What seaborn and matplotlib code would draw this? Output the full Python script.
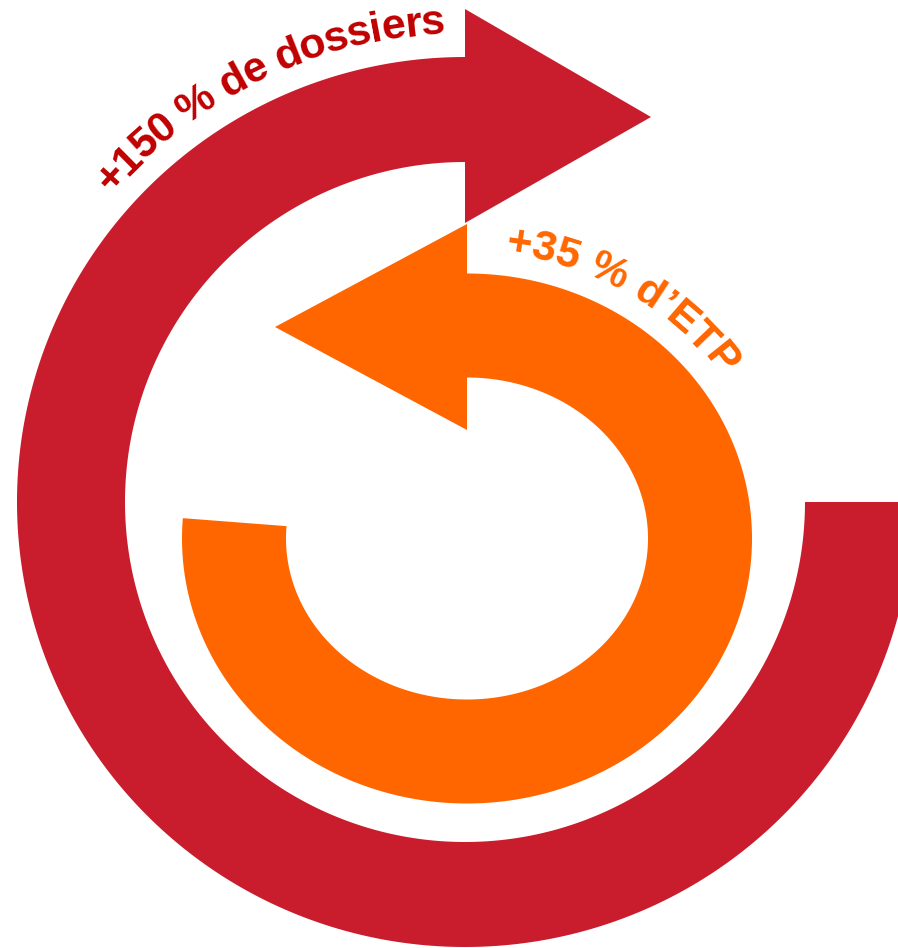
import numpy as np
import matplotlib.pyplot as plt
import seaborn as sns
from matplotlib.patches import Polygon
from matplotlib import font_manager
from matplotlib.ft2font import FT2Font

# valeurs affichées
growth = [150, 35]
units = ["de dossiers", "d\u2019ETP"]
labels = ["+%d %% %s" % (g, u) for g, u in zip(growth, units)]
ring_colors = ["#C91D2D", "#FF6600"]
text_colors = ["#C00000", "#FF6600"]

sns.set_theme(style="white")
plt.rcParams['font.family'] = ['Liberation Sans', 'DejaVu Sans']

W, H = 898, 948
fig = plt.figure(figsize=(W / 100, H / 100), dpi=100)
ax = fig.add_axes([0, 0, 1, 1])
ax.set_xlim(0, W)
ax.set_ylim(H, 0)
ax.axis('off')


def ring(cx, cy, rxo, ryo, rxi, ryi, t0, t1, color):
    t = np.radians(np.linspace(t0, t1, 500))
    outer = np.c_[cx + rxo * np.cos(t), cy + ryo * np.sin(t)]
    inner = np.c_[cx + rxi * np.cos(t[::-1]), cy + ryi * np.sin(t[::-1])]
    ax.add_patch(Polygon(np.vstack([outer, inner]), closed=True, fc=color, ec='none'))


def curved_text(s, cx, cy, rx, ry, t_start, size, color, spacing=1.0):
    path = font_manager.findfont(font_manager.FontProperties(family='Liberation Sans', weight='bold'))
    font = FT2Font(path)
    font.set_size(size, 100)
    adv = np.array([font.load_char(ord(c)).linearHoriAdvance / 65536 for c in s]) * spacing
    t = np.radians(np.linspace(t_start, t_start + 180, 5000))
    x = cx + rx * np.cos(t)
    y = cy + ry * np.sin(t)
    arc = np.r_[0, np.cumsum(np.hypot(np.diff(x), np.diff(y)))]
    centers = np.cumsum(adv) - adv / 2
    for c, sc in zip(s, centers):
        tc = np.interp(sc, arc, t)
        px, py = cx + rx * np.cos(tc), cy + ry * np.sin(tc)
        rot = np.degrees(np.arctan2(-ry * np.cos(tc), -rx * np.sin(tc)))
        ax.text(px, py, c, rotation=rot, rotation_mode='anchor', ha='center', va='baseline',
                fontsize=size, fontweight='bold', color=color,
                family=['Liberation Sans', 'DejaVu Sans'])


# grande flèche rouge
ring(465, 502, 448, 445, 340, 340, 0, 271, ring_colors[0])
ax.add_patch(Polygon([(465, 9), (651, 117), (465, 223)], closed=True, fc=ring_colors[0], ec='none'))

# petite flèche orange
ring(467, 538.5, 285, 265, 181, 161, -91, 184.4, ring_colors[1])
ax.add_patch(Polygon([(467, 224), (275, 327), (467, 430)], closed=True, fc=ring_colors[1], ec='none'))

curved_text(labels[0], 465, 501, 468, 468, 221, 31, text_colors[0], spacing=0.955)
curved_text(labels[1], 467, 538.5, 306, 287, -83, 31, text_colors[1])

fig.savefig('out.png', dpi=100, facecolor='white')
